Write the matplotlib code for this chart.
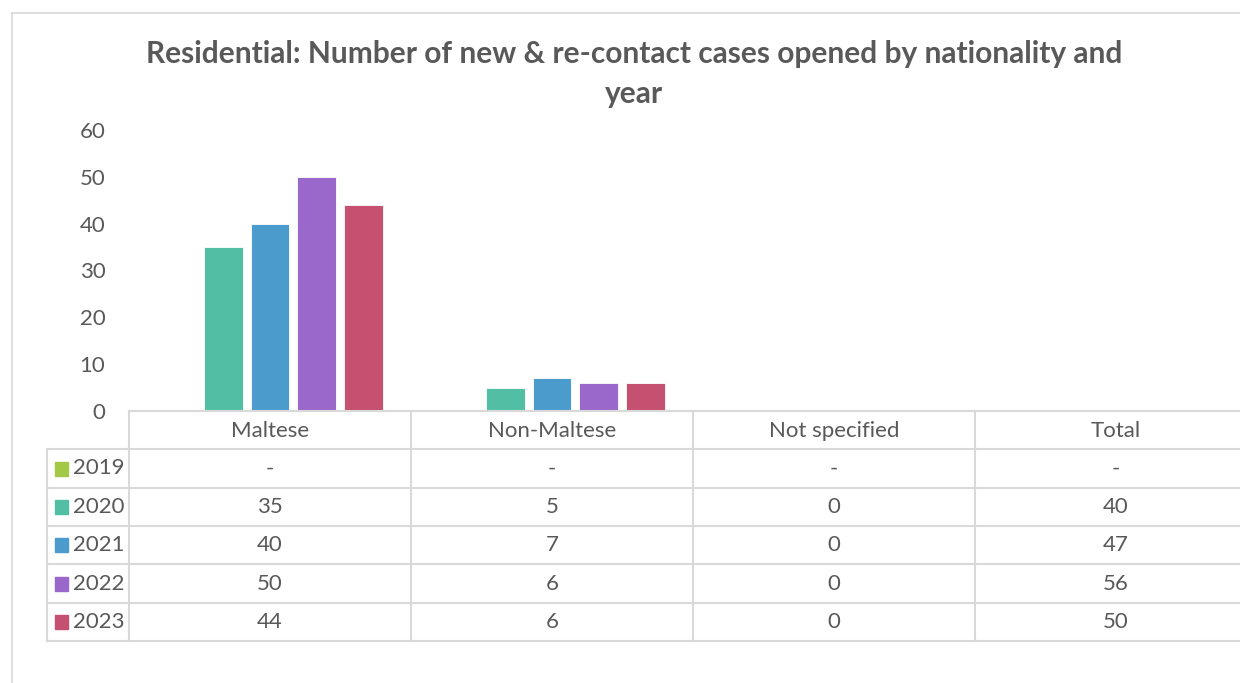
import numpy as np
import matplotlib.pyplot as plt
from matplotlib.lines import Line2D
from matplotlib.patches import Rectangle
from matplotlib.transforms import blended_transform_factory

plt.rcParams['font.family'] = ['Lato', 'DejaVu Sans']

categories = ['Maltese', 'Non-Maltese', 'Not specified', 'Total']
years = ['2019', '2020', '2021', '2022', '2023']
v2019 = [None, None, None, None]
v2020 = [35, 5, 0, 40]
v2021 = [40, 7, 0, 47]
v2022 = [50, 6, 0, 56]
v2023 = [44, 6, 0, 50]
colors = ['#A2C845', '#52BFA4', '#4B9CCD', '#9A67CA', '#C5506F']

series = [v2019, v2020, v2021, v2022, v2023]
# only the nationality groups get bars, the total column lives in the table
n_bar_cats = 2

TXT = '#595959'
GRID = '#D9D9D9'
W, H = 1240, 683
FS = 16

fig = plt.figure(figsize=(W / 100, H / 100), dpi=100)

def fy(py):
    return 1 - py / H

ax = fig.add_axes([129 / W, fy(411), (1257 - 129) / W, (411 - 130) / H])
ax.set_xlim(-0.5, len(categories) - 0.5)
ax.set_ylim(0, 60)
ax.set_yticks(range(0, 61, 10))
ax.tick_params(axis='y', length=0, labelsize=FS, labelcolor=TXT, pad=17)
ax.set_xticks([])
for s in ['top', 'right', 'left']:
    ax.spines[s].set_visible(False)
ax.spines['bottom'].set_color(GRID)
ax.spines['bottom'].set_linewidth(1.5)

x = np.arange(n_bar_cats)
slot = 0.165
for i, (vals, c) in enumerate(zip(series, colors)):
    if all(v is None for v in vals):
        continue
    h = [v if v is not None else 0 for v in vals[:n_bar_cats]]
    ax.bar(x + (i - 2) * slot, h, width=0.138, color=c,
           edgecolor='white', linewidth=0.6)

fig.text(634 / W, fy(54), 'Residential: Number of new & re-contact cases opened by nationality and',
         ha='center', va='center', fontsize=21.5, fontweight='bold', color=TXT)
fig.text(634 / W, fy(94), 'year', ha='center', va='center',
         fontsize=21.5, fontweight='bold', color=TXT)

# chart frame
fig.add_artist(Line2D([12 / W, 12 / W], [fy(13), 0], transform=fig.transFigure,
                      color=GRID, lw=1.2))
fig.add_artist(Line2D([12 / W, 1], [fy(13), fy(13)], transform=fig.transFigure,
                      color=GRID, lw=1.2))

# data table under the axis
tr = blended_transform_factory(ax.transData, fig.transFigure)
row_edges = [411, 449, 488, 526, 564, 603, 641]
leg_left = -0.5 - (129 - 47) / 282
right_edge = len(categories) - 0.5

for py in row_edges[1:]:
    fig.add_artist(Line2D([leg_left, right_edge], [fy(py), fy(py)], transform=tr,
                          color=GRID, lw=1.5, clip_on=False))
for k in range(len(categories) + 1):
    xb = k - 0.5
    fig.add_artist(Line2D([xb, xb], [fy(411), fy(641)], transform=tr,
                          color=GRID, lw=1.5, clip_on=False))
fig.add_artist(Line2D([leg_left, leg_left], [fy(449), fy(641)], transform=tr,
                      color=GRID, lw=1.5, clip_on=False))

hdr_y = fy((row_edges[0] + row_edges[1]) / 2 + 1)
for j, cat in enumerate(categories):
    fig.text(j, hdr_y, cat, transform=tr, ha='center', va='center',
             fontsize=FS, color=TXT)

for i, (yr, vals, c) in enumerate(zip(years, series, colors)):
    cy = (row_edges[i + 1] + row_edges[i + 2]) / 2
    fig.add_artist(Rectangle((55 / W, fy(cy + 7)), 13 / W, 14 / H,
                             transform=fig.transFigure, color=c))
    fig.text(73 / W, fy(cy), yr, ha='left', va='center', fontsize=FS, color=TXT)
    for j, v in enumerate(vals):
        fig.text(j, fy(cy), '-' if v is None else str(v), transform=tr,
                 ha='center', va='center', fontsize=FS, color=TXT)

fig.savefig('out.png', dpi=100, facecolor='white')
